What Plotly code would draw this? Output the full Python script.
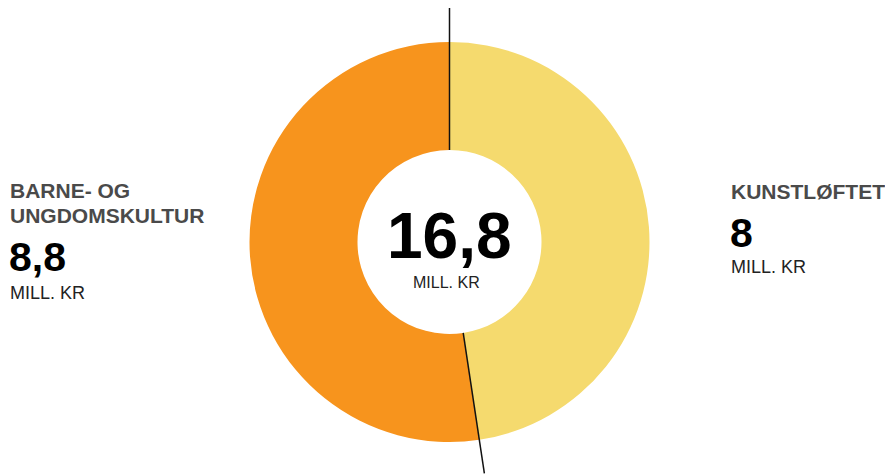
import math
import plotly.graph_objects as go

# Data
labels = ["KUNSTLØFTET", "BARNE- OG<br>UNGDOMSKULTUR"]
values = [8, 8.8]
value_text = ["8", "8,8"]
unit = "MILL. KR"
colors = ["#F5DA6E", "#F7941D"]

W, H = 885, 475
CX, CY, R = 449.5, 242, 200
HOLE = 0.46


def px(x):
    return x / W


def py(y):
    return 1 - y / H


fig = go.Figure(go.Pie(
    labels=labels,
    values=values,
    sort=False,
    direction="clockwise",
    rotation=0,
    hole=HOLE,
    textinfo="none",
    hoverinfo="label+value",
    marker=dict(colors=colors, line=dict(width=0)),
    domain=dict(x=[px(CX - R), px(CX + R)], y=[py(CY + R), py(CY - R)]),
    showlegend=False,
))

# separator lines at slice boundaries (angles from the data)
total = sum(values)
cum = 0
for i, v in enumerate(values):
    ang = 2 * math.pi * cum / total
    r0, r1 = R * HOLE, 234
    x0 = CX + r0 * math.sin(ang)
    y0 = CY - r0 * math.cos(ang)
    x1 = CX + r1 * math.sin(ang)
    y1 = CY - r1 * math.cos(ang)
    fig.add_shape(type="line", xref="paper", yref="paper",
                  x0=px(x0), y0=py(y0), x1=px(x1), y1=py(y1),
                  line=dict(color="#111111", width=1.5))
    cum += v

font = "Liberation Sans, Arial, sans-serif"


def note(text, x, y, size, color, bold=False, anchor="left"):
    if bold:
        text = "<b>" + text + "</b>"
    fig.add_annotation(text=text, x=px(x), y=py(y), xref="paper", yref="paper",
                       xanchor=anchor, yanchor="middle", showarrow=False,
                       align=anchor, borderpad=0,
                       font=dict(family=font, size=size, color=color))


# left label
note("BARNE- OG", 9, 190, 21, "#4a4a4a", bold=True)
note("UNGDOMSKULTUR", 9, 216, 21, "#4a4a4a", bold=True)
note(value_text[1], 8, 257, 41, "#000000", bold=True)
note(unit, 9, 293, 18, "#222222")

# right label
note(labels[0], 730, 191, 21, "#4a4a4a", bold=True)
note(value_text[0], 729, 233, 41, "#000000", bold=True)
note(unit, 730, 267, 18, "#222222")

# centre total
total_text = f"{total:.1f}".replace(".", ",")
note(total_text, 449, 236, 64, "#000000", bold=True, anchor="center")
note(unit, 446, 282, 16, "#222222", anchor="center")

fig.update_layout(
    width=W,
    height=H,
    margin=dict(l=0, r=0, t=0, b=0),
    paper_bgcolor="white",
    plot_bgcolor="white",
)

fig.write_html(
    "out.html",
    config={"displayModeBar": False},
    post_script="document.body.style.margin='0';document.body.style.overflow='hidden';",
)
